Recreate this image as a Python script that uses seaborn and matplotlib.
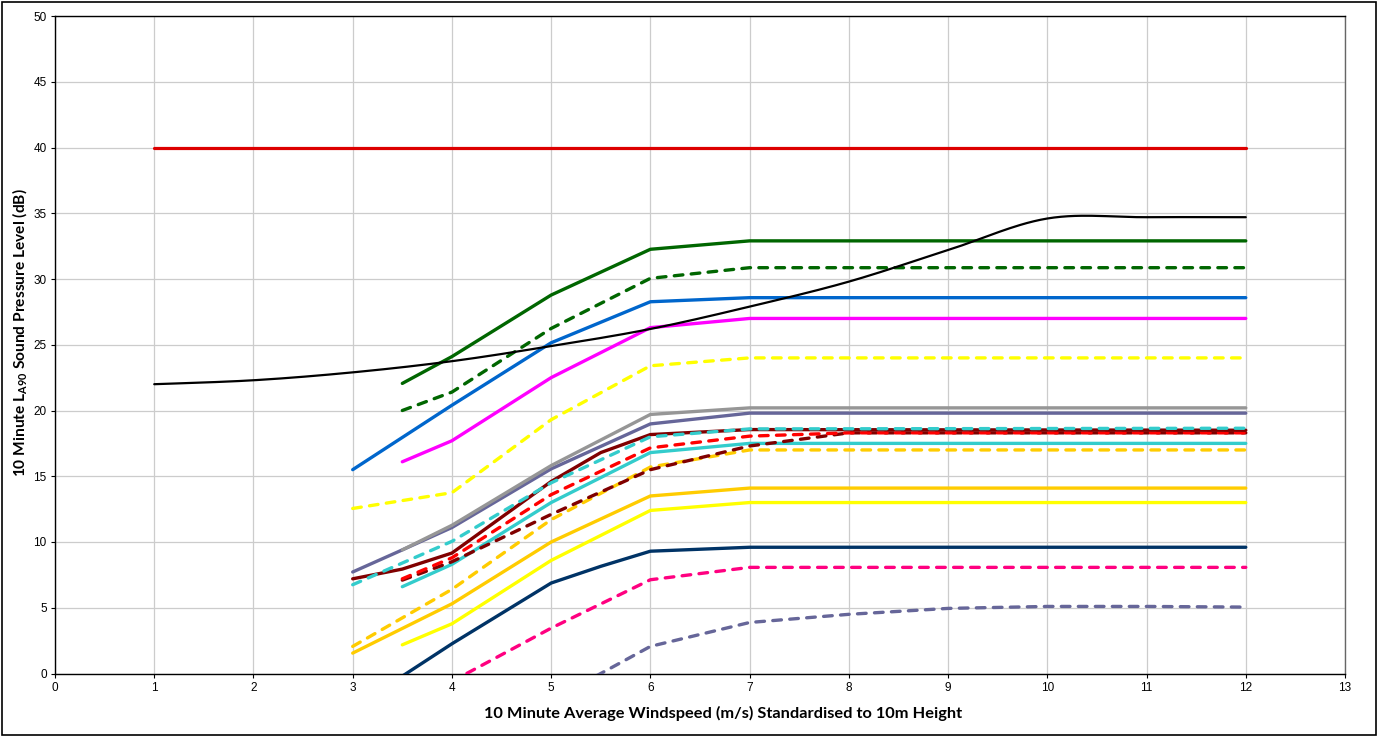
import numpy as np
import pandas as pd
import matplotlib
matplotlib.use("Agg")
import matplotlib.pyplot as plt
import seaborn as sns
from matplotlib.patches import Rectangle

# ---------------- data ----------------
limit_x = [1, 12]
limit_y = [40, 40]

background_x = [1, 2, 3, 4, 5, 6, 7, 8, 9, 10, 11, 12]
background_y = [22.0, 22.3, 22.9, 23.75, 24.9, 26.2, 27.9, 29.8, 32.2, 34.6, 34.7, 34.7]

navy_x = [3.5, 4, 5, 5.5, 6, 7, 12]
navy_y = [-0.2, 2.26, 6.88, 8.15, 9.3, 9.6, 9.6]

pink_dash_x = [4, 5, 6, 7, 12]
pink_dash_y = [-0.6, 3.45, 7.13, 8.07, 8.07]

purple_dash_x = [5, 5.5, 6, 7, 8, 9, 10, 11, 12]
purple_dash_y = [-2.0, 0.0, 2.06, 3.88, 4.5, 4.95, 5.1, 5.1, 5.05]

yellow_x = [3.5, 4, 5, 6, 7, 12]
yellow_y = [2.18, 3.78, 8.6, 12.4, 13.0, 13.0]

orange_x = [3, 4, 5, 6, 7, 12]
orange_y = [1.55, 5.3, 10.0, 13.5, 14.1, 14.1]

orange_dash_x = [3, 4, 5, 6, 7, 12]
orange_dash_y = [2.06, 6.4, 11.7, 15.7, 17.0, 17.0]

cyan_x = [3.5, 4, 5, 6, 7, 12]
cyan_y = [6.6, 8.3, 13.0, 16.8, 17.5, 17.5]

darkred_dash_x = [3.5, 4, 5, 6, 7, 8, 12]
darkred_dash_y = [7.1, 8.5, 12.1, 15.5, 17.3, 18.3, 18.3]

red_dash_x = [3.5, 4, 5, 6, 7, 8, 12]
red_dash_y = [7.2, 8.8, 13.6, 17.16, 18.05, 18.3, 18.3]

darkred_x = [3, 3.5, 4, 5, 5.5, 6, 7, 12]
darkred_y = [7.2, 7.94, 9.16, 14.6, 16.8, 18.17, 18.55, 18.5]

cyan_dash_x = [3, 4, 5, 6, 7, 12]
cyan_dash_y = [6.75, 10.05, 14.5, 18.0, 18.6, 18.65]

purple_x = [3, 3.5, 4, 5, 6, 7, 12]
purple_y = [7.72, 9.4, 11.1, 15.56, 18.98, 19.8, 19.8]

gray_x = [3.5, 4, 5, 6, 7, 12]
gray_y = [9.4, 11.27, 15.81, 19.7, 20.2, 20.2]

yellow_dash_x = [3, 4, 5, 6, 7, 12]
yellow_dash_y = [12.55, 13.75, 19.3, 23.4, 24.0, 24.0]

magenta_x = [3.5, 4, 5, 6, 7, 12]
magenta_y = [16.1, 17.7, 22.5, 26.3, 27.0, 27.0]

blue_x = [3, 4, 5, 6, 7, 12]
blue_y = [15.5, 20.4, 25.15, 28.27, 28.58, 28.58]

green_dash_x = [3.5, 4, 5, 6, 7, 12]
green_dash_y = [20.0, 21.4, 26.24, 30.05, 30.86, 30.86]

green_x = [3.5, 4, 5, 6, 7, 12]
green_y = [22.06, 24.1, 28.78, 32.26, 32.9, 32.9]

x_ticks = list(range(0, 14))
y_ticks = list(range(0, 51, 5))

x_label = "10 Minute Average Windspeed (m/s) Standardised to 10m Height"
y_label = r"10 Minute L$_{\mathrm{A90}}$ Sound Pressure Level (dB)"

# ---------------- styling ----------------
sns.set_theme(style="white")
plt.rcParams["font.family"] = ["Lato", "DejaVu Sans"]
plt.rcParams["mathtext.fontset"] = "custom"
plt.rcParams["mathtext.rm"] = "Lato:bold"
plt.rcParams["mathtext.it"] = "Lato:bold"
plt.rcParams["mathtext.bf"] = "Lato:bold"
plt.rcParams["text.color"] = "black"
plt.rcParams["axes.labelcolor"] = "black"
plt.rcParams["xtick.color"] = "black"
plt.rcParams["ytick.color"] = "black"

fig = plt.figure(figsize=(13.85, 7.36), dpi=100)
ax = fig.add_axes([55 / 1385, 1 - 673.5 / 736, (1345 - 55) / 1385, (673.5 - 16) / 736])

LW = 2.4
DASH = (0, (2.6, 2.5))


def smooth(xs, ys, n=30):
    # Bezier smoothing of the drawn curve (like a spreadsheet "smoothed line")
    xs = np.asarray(xs, float)
    ys = np.asarray(ys, float)
    P = np.column_stack([xs, ys])
    out = []
    for i in range(len(P) - 1):
        p0 = P[i - 1] if i > 0 else P[i]
        p1 = P[i]
        p2 = P[i + 1]
        p3 = P[i + 2] if i + 2 < len(P) else P[i + 1]
        c1 = p1 + (p2 - p0) / 6
        c2 = p2 - (p3 - p1) / 6
        t = np.linspace(0, 1, n)[:, None]
        seg = ((1 - t) ** 3) * p1 + 3 * ((1 - t) ** 2) * t * c1 + 3 * (1 - t) * t ** 2 * c2 + t ** 3 * p2
        out.append(seg if i == 0 else seg[1:])
    s = np.vstack(out)
    return s[:, 0], s[:, 1]


series = [
    (limit_x, limit_y, "#dd0000", "-", 2.3),
    (navy_x, navy_y, "#003366", "-", LW),
    (pink_dash_x, pink_dash_y, "#ff0080", DASH, LW),
    (purple_dash_x, purple_dash_y, "#666699", DASH, LW),
    (yellow_x, yellow_y, "#ffff00", "-", LW),
    (orange_x, orange_y, "#ffcc00", "-", LW),
    (orange_dash_x, orange_dash_y, "#ffcc00", DASH, LW),
    (cyan_x, cyan_y, "#33cccc", "-", LW),
    (darkred_dash_x, darkred_dash_y, "#800000", DASH, LW),
    (red_dash_x, red_dash_y, "#ff0000", DASH, LW),
    (darkred_x, darkred_y, "#800000", "-", LW),
    (cyan_dash_x, cyan_dash_y, "#33cccc", DASH, LW),
    (purple_x, purple_y, "#666699", "-", LW),
    (gray_x, gray_y, "#969696", "-", LW),
    (yellow_dash_x, yellow_dash_y, "#ffff00", DASH, LW),
    (magenta_x, magenta_y, "#ff00ff", "-", LW),
    (blue_x, blue_y, "#0066cc", "-", LW),
    (green_dash_x, green_dash_y, "#006600", DASH, LW),
    (green_x, green_y, "#006600", "-", LW),
]

for i, (xs, ys, col, ls, lw) in enumerate(series):
    df = pd.DataFrame({"x": xs, "y": ys})
    sns.lineplot(data=df, x="x", y="y", ax=ax, color=col, linewidth=lw,
                 linestyle=ls, estimator=None, sort=False, zorder=3 + i,
                 solid_capstyle="round", dash_capstyle="round")

bx, by = smooth(background_x, background_y)
sns.lineplot(x=bx, y=by, ax=ax, color="black", linewidth=1.6, estimator=None,
             sort=False, zorder=40)

ax.set_xlim(0, 13)
ax.set_ylim(0, 50)
ax.set_xticks(x_ticks)
ax.set_yticks(y_ticks)
ax.set_xticklabels([str(v) for v in x_ticks], fontsize=8.5, family="Liberation Sans")
ax.set_yticklabels([str(v) for v in y_ticks], fontsize=8.5, family="Liberation Sans")
ax.grid(True, color="#cccccc", linewidth=0.9)
ax.set_axisbelow(True)
ax.tick_params(axis="both", direction="out", length=3, width=0.8, color="black",
               pad=3, bottom=True, left=True)
for s in ax.spines.values():
    s.set_color("black")
    s.set_linewidth(1.0)
ax.spines["right"].set_color("#666666")

ax.set_xlabel(x_label, fontsize=11.8, fontweight="bold")
ax.set_ylabel(y_label, fontsize=11.2, fontweight="bold")
ax.xaxis.set_label_coords((723.5 - 55) / 1290, -32 / 657.5)
ax.yaxis.set_label_coords(-26 / 1290, (673.5 - 333) / 657.5)

fig.patches.append(Rectangle((2 / 1385, 1.5 / 736), 1374 / 1385, 733 / 736,
                             transform=fig.transFigure, fill=False,
                             edgecolor="black", linewidth=1.2, zorder=100))

fig.savefig("out.png", dpi=100)
